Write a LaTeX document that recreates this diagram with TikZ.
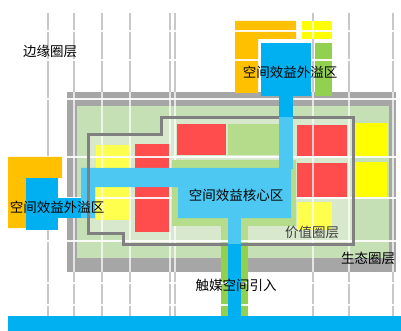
\documentclass[tikz,border=0pt]{standalone}
\usepackage{fontspec}
\newfontfamily\cjk{Noto Sans CJK SC}
\definecolor{cGrid}{HTML}{C8C8C8}
\definecolor{cBand}{HTML}{A6A6A6}
\definecolor{cLG}{HTML}{C5E0B4}
\definecolor{cVal}{HTML}{D8E8CC}
\definecolor{cLine}{HTML}{808080}
\definecolor{cRed}{HTML}{FF4D4D}
\definecolor{cY}{HTML}{FFFF00}
\definecolor{cLY}{HTML}{FFFF4D}
\definecolor{cGB}{HTML}{B4DC8A}
\definecolor{cGT}{HTML}{92D050}
\definecolor{cOr}{HTML}{FFC000}
\definecolor{cDB}{HTML}{00B0F0}
\definecolor{cLB}{HTML}{4DC8F2}
\definecolor{cTxt}{HTML}{404040}
\begin{document}
\begin{tikzpicture}[x=1pt,y=-1pt,
  lbl/.style={font=\cjk\fontsize{13.5}{14}\selectfont, inner sep=0pt, text=black},
  vg/.style={draw=cGrid, line width=1.6pt},
  wl/.style={draw=white, line width=1.8pt, opacity=0.7},
  hl/.style={draw=white, line width=2pt, opacity=0.9}]
\useasboundingbox (0,0) rectangle (401,331);
\fill[white] (0,0) rectangle (401,331);
% grey grid lines
\foreach \x in {48,74,102,130,170,175,313,349,393} \draw[vg] (\x,13) -- (\x,316);
% ecological ring
\fill[cBand] (67,92) rectangle (396,272);
\fill[cLG] (77,106) rectangle (389,258);
% value ring fill
\fill[cVal] (88,135) -- (161,135) -- (161,118) -- (353,118) -- (353,244) -- (123,244) -- (123,233) -- (88,233) -- cycle;
% blocks
\fill[cRed] (177,124) rectangle (226,155);
\fill[cGB] (228,124) rectangle (279,155);
\fill[cRed] (135,144) rectangle (169,232);
\fill[cRed] (297,125) rectangle (347,156);
\fill[cRed] (297,163) rectangle (347,197);
\fill[cY] (354,123) rectangle (388,157);
\fill[cY] (354,162) rectangle (387,197);
\fill[cLY] (96,145) rectangle (130,220);
\fill[cLY] (297,202) rectangle (332,230);
% top spillover (back part)
\fill[cOr] (235,21) -- (296,21) -- (296,39) -- (258,39) -- (258,93) -- (235,93) -- cycle;
\fill[cY] (302,21) rectangle (332,39);
\fill[cGT] (315,43) rectangle (332,96);
% green strips along the catalyst connector
\fill[cGB] (221,226) rectangle (228,244);
\fill[cGB] (241,226) rectangle (248,244);
\fill[cGT] (221,244) rectangle (228,316);
\fill[cGT] (241,244) rectangle (248,316);
% white grid overlay
\foreach \x in {74,102,130,170,175,313,349,393} \draw[wl] (\x,92) -- (\x,272);
\draw[wl] (313,21) -- (313,39);
\foreach \y in {31,60,99,157,198,241,283,305} \draw[hl] (0,\y) -- (401,\y);
% core halo
\fill[cGB] (172,160) rectangle (296,226);
% left spillover
\fill[cOr] (8,157) -- (62,157) -- (62,178) -- (26,178) -- (26,228) -- (8,228) -- cycle;
\fill[cDB] (26,178) rectangle (58,230);
\fill[cDB] (58,198) rectangle (82,218);
% core light blue shape
\fill[cLB] (81,168) -- (291,168) -- (291,218) -- (178,218) -- (178,187) -- (95,187) -- (95,218) -- (81,218) -- cycle;
% value ring outline
\draw[cLine, line width=3pt] (88,135) -- (161,135) -- (161,118) -- (353,118) -- (353,244) -- (123,244) -- (123,233) -- (88,233) -- cycle;
% top spillover blue
\fill[cDB] (261,43) rectangle (311,96);
\fill[cDB] (279,95) rectangle (293,117);
\fill[cLB] (279,117) rectangle (293,169);
% bottom connector
\fill[cLB] (228,217) rectangle (241,244);
\fill[cDB] (228,244) rectangle (241,317);
\fill[cDB] (8,316) rectangle (401,331);
% labels
\node[lbl] (edge) at (50,51) {边缘圈层};
\node[lbl] (spilltop) at (290,72) {空间效益外溢区};
\node[lbl] (spillleft) at (57,207) {空间效益外溢区};
\node[lbl] (core) at (236,195) {空间效益核心区};
\node[lbl, text=cTxt] (value) at (312,232) {价值圈层};
\node[lbl] (eco) at (368,258) {生态圈层};
\node[lbl] (cat) at (236,285) {触媒空间引入};
\end{tikzpicture}
\end{document}
